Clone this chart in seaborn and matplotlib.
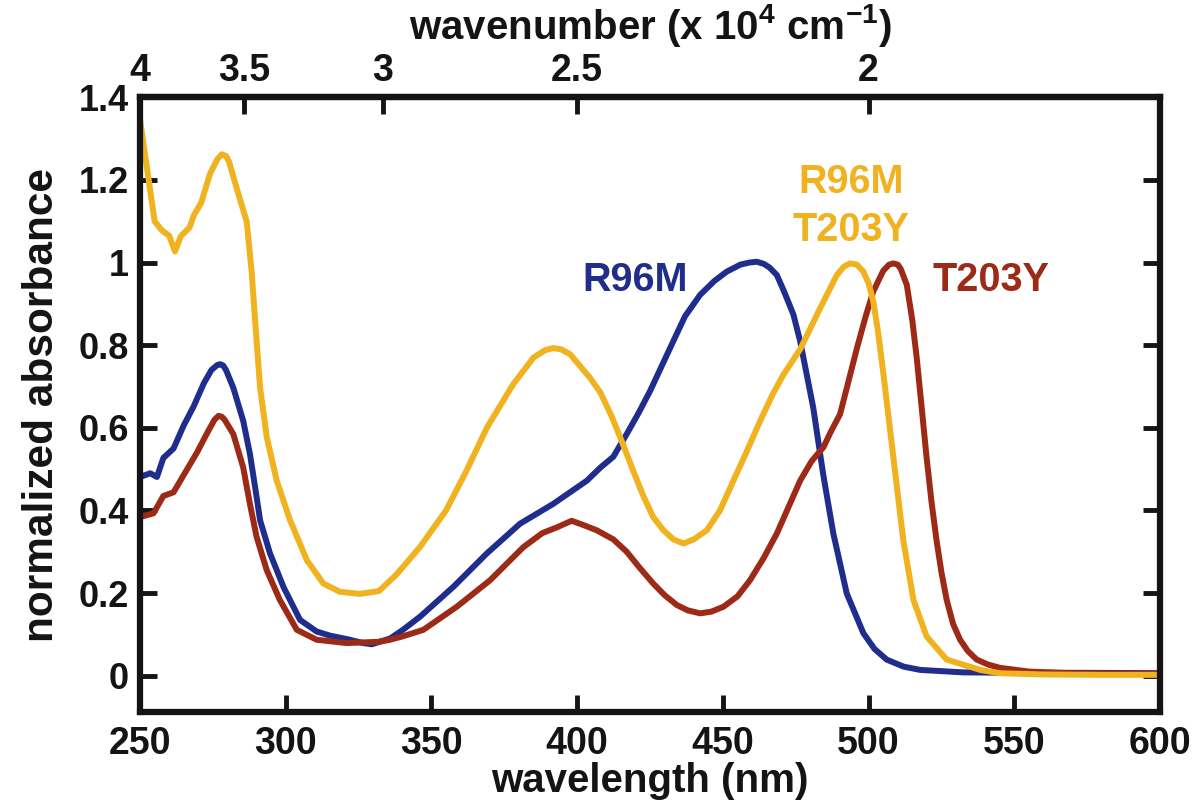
import matplotlib
matplotlib.use("Agg")
import matplotlib.pyplot as plt
import seaborn as sns

# R96M (blue)
wl_r96m = [250, 253.5, 255.8, 258, 261.5, 265, 268.4, 271.9, 274.5, 276.5, 277.5, 278.5, 279.5, 282, 285.4,
           287.7, 289.5, 291.2, 294.6, 299.2, 304.9, 310.6, 315.2, 321.4, 326.6, 329.5, 335.8, 340,
           346.1, 357.5, 369, 380.4, 391.8, 403.3, 408, 412.4, 417, 421, 425, 433, 437, 442.2,
           447, 451.3, 456, 459, 461.6, 464, 466, 468.5, 471, 474.2, 476.5, 481, 484.4, 487.9, 492.5,
           498.2, 502, 506.2, 512, 517.7, 532.5, 550, 575, 600]
abs_r96m = [0.481, 0.49, 0.481, 0.527, 0.55, 0.606, 0.652, 0.708, 0.74, 0.752, 0.754, 0.751, 0.74, 0.697, 0.617,
            0.537, 0.456, 0.376, 0.296, 0.215, 0.135, 0.107, 0.097, 0.088, 0.079, 0.076, 0.09, 0.11,
            0.143, 0.215, 0.296, 0.368, 0.416, 0.472, 0.504, 0.53, 0.585, 0.635, 0.689, 0.81, 0.87, 0.922,
            0.955, 0.978, 0.995, 1.0, 1.002, 0.997, 0.988, 0.97, 0.93, 0.874, 0.81, 0.649, 0.488, 0.344, 0.199,
            0.103, 0.065, 0.039, 0.022, 0.014, 0.008, 0.007, 0.007, 0.006]

# T203Y (dark red)
wl_t203y = [250, 254.6, 258, 261.5, 265, 269.6, 273, 275.5, 276.9, 278, 279, 282, 285.4, 287.7, 290, 293.5,
            298, 303.8, 310.6, 320.9, 331.8, 335.8, 340, 347.2, 358.7, 370.1, 381.5, 388, 393,
            398.1, 402, 406.7, 412.4, 417, 421, 426.1, 430, 434.2, 438, 442.2, 446, 450.2, 455,
            459.3, 464, 468.5, 472, 476.5, 480.5, 484.5, 487, 490.2, 493, 496, 499, 501.6, 505,
            507, 508.5, 510, 511, 513.1, 515, 516.5, 518.2, 519.9, 521.6, 523.3, 525, 526.8, 529,
            531.4, 534, 537.1, 541, 545.1, 555, 570, 600]
abs_t203y = [0.384, 0.393, 0.435, 0.444, 0.486, 0.541, 0.587, 0.619, 0.629, 0.627, 0.62, 0.585, 0.504, 0.416, 0.336, 0.255,
             0.183, 0.111, 0.087, 0.079, 0.082, 0.087, 0.095, 0.111, 0.167, 0.231, 0.311, 0.345, 0.359,
             0.375, 0.365, 0.352, 0.33, 0.3, 0.265, 0.223, 0.195, 0.171, 0.158, 0.151, 0.155, 0.167, 0.192,
             0.231, 0.285, 0.344, 0.4, 0.472, 0.52, 0.553, 0.59, 0.633, 0.71, 0.793, 0.87, 0.93, 0.98,
             0.995, 0.998, 0.995, 0.985, 0.946, 0.86, 0.77, 0.65, 0.528, 0.42, 0.328, 0.25, 0.183, 0.125,
             0.087, 0.06, 0.039, 0.027, 0.019, 0.01, 0.006, 0.005]

# R96M/T203Y (gold)
wl_double = [250, 255, 257.5, 260, 262, 264, 267, 268.5, 271, 274, 276.5, 278, 279.5, 280.5, 283.2, 286.6, 288.3,
             289.5, 291.2, 293.5, 296.9, 301.5, 307.2, 312.9, 318.6, 325.5, 332, 338, 346, 355, 362, 369,
             378, 385, 389, 391.8, 394.5, 397.6, 404.4, 408, 412, 416, 419, 422.7, 426, 429.6, 433, 436.5,
             440, 444.5, 449, 453.6, 458, 462.8, 467, 470.8, 476.5, 483.4, 489.1, 491.5, 493.6, 496,
             498.2, 500, 501.6, 503.3, 505.1, 508.5, 511.9, 515.4, 519.9, 526.8, 538.3, 545, 560, 580, 600]
abs_double = [1.346, 1.1, 1.078, 1.065, 1.027, 1.064, 1.085, 1.115, 1.145, 1.215, 1.25, 1.262, 1.258, 1.245, 1.179, 1.099, 0.978,
              0.858, 0.697, 0.577, 0.472, 0.376, 0.28, 0.223, 0.203, 0.198, 0.205, 0.245, 0.311, 0.4, 0.496, 0.6,
              0.705, 0.77, 0.788, 0.793, 0.79, 0.778, 0.721, 0.685, 0.625, 0.555, 0.5, 0.435, 0.385, 0.352, 0.33, 0.32,
              0.33, 0.352, 0.4, 0.472, 0.54, 0.617, 0.68, 0.729, 0.79, 0.89, 0.97, 0.99, 0.998, 0.995,
              0.978, 0.95, 0.906, 0.83, 0.729, 0.528, 0.328, 0.183, 0.095, 0.039, 0.014, 0.006, 0.003, 0.002, 0.002]

xticks = [250, 300, 350, 400, 450, 500, 550, 600]
yticks = [0, 0.2, 0.4, 0.6, 0.8, 1.0, 1.2, 1.4]
ytick_labels = ["0", "0.2", "0.4", "0.6", "0.8", "1", "1.2", "1.4"]
wn_ticks = [4, 3.5, 3, 2.5, 2]
wn_labels = ["4", "3.5", "3", "2.5", "2"]

c_blue = "#1f2d8c"
c_red = "#9c2a16"
c_gold = "#f0b21e"
c_axis = "#141414"

sns.set_theme(style="ticks")
plt.rcParams["font.family"] = ["Liberation Sans", "DejaVu Sans"]
plt.rcParams["mathtext.fontset"] = "custom"
plt.rcParams["mathtext.rm"] = "Liberation Sans"
plt.rcParams["mathtext.bf"] = "Liberation Sans:bold"

fig = plt.figure(figsize=(12, 8.11), dpi=100)
ax = fig.add_axes([0.1167, 0.122, 0.85, 0.758])

lw = 4.3
sns.lineplot(x=wl_r96m, y=abs_r96m, ax=ax, color=c_blue, lw=lw, sort=False)
sns.lineplot(x=wl_t203y, y=abs_t203y, ax=ax, color=c_red, lw=lw, sort=False)
sns.lineplot(x=wl_double, y=abs_double, ax=ax, color=c_gold, lw=lw, sort=False)

ax.set_xlim(250, 600)
ax.set_ylim(-0.088, 1.4)

for s in ax.spines.values():
    s.set_linewidth(4.5)
    s.set_color(c_axis)

ax.set_xticks(xticks)
ax.set_xticklabels([str(t) for t in xticks], fontsize=27, fontweight="bold", color=c_axis)
ax.set_yticks(yticks)
ax.set_yticklabels(ytick_labels, fontsize=26, fontweight="bold", color=c_axis)
ax.tick_params(direction="in", length=12, width=3.5, color=c_axis, right=True, top=False)
ax.tick_params(axis="x", pad=10)
ax.tick_params(axis="y", pad=8)

ax.set_xlabel("wavelength (nm)", fontsize=29, fontweight="bold", color=c_axis, labelpad=0)
ax.set_ylabel("normalized absorbance", fontsize=30.5, fontweight="bold", color=c_axis, labelpad=12)

sec = ax.secondary_xaxis("top", functions=(lambda x: 1000.0 / x, lambda x: 1000.0 / x))
sec.set_xticks(wn_ticks)
sec.set_xticklabels(wn_labels, fontsize=27, fontweight="bold", color=c_axis)
sec.tick_params(direction="in", length=12, width=3.5, color=c_axis, pad=6)
sec.spines["top"].set_linewidth(4.5)
sec.set_xlabel(r"wavenumber (x 10$^{\mathbf{4}}$ cm$^{\mathbf{-1}}$)", fontsize=29, fontweight="bold",
               color=c_axis, labelpad=10)

bold = dict(fontsize=28.5, fontweight="bold", ha="center", va="center")
ax.text(420, 0.957, "R96M", color=c_blue, **bold)
ax.text(494, 1.137, "R96M\nT203Y", color=c_gold, linespacing=1.35, **bold)
ax.text(542, 0.957, "T203Y", color=c_red, **bold)

fig.savefig("out.png", dpi=100)
